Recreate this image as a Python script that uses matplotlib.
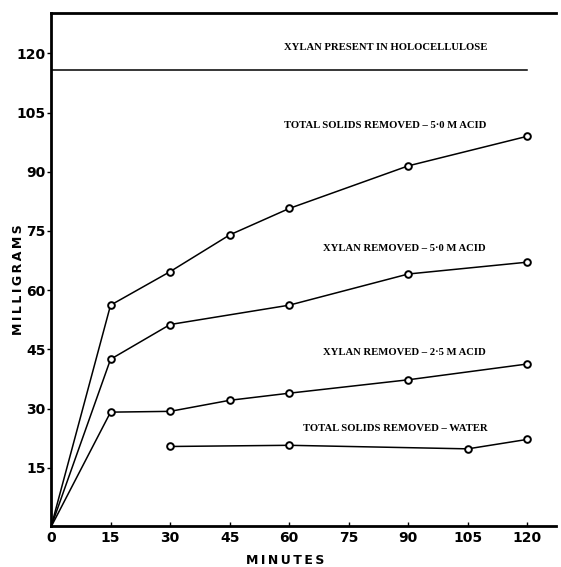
import matplotlib
matplotlib.use("Agg")
import matplotlib.pyplot as plt

# data
xylan_present = 115.8
ts_acid_x = [0, 15, 30, 45, 60, 90, 120]
ts_acid_y = [0, 56.2, 64.7, 74.0, 80.7, 91.5, 99.0]
xy50_x = [0, 15, 30, 60, 90, 120]
xy50_y = [0, 42.5, 51.3, 56.2, 64.1, 67.1]
xy25_x = [0, 15, 30, 45, 60, 90, 120]
xy25_y = [0, 29.1, 29.3, 32.1, 33.9, 37.3, 41.3]
water_x = [30, 60, 105, 120]
water_y = [20.4, 20.7, 19.8, 22.2]
xticks = [0, 15, 30, 45, 60, 75, 90, 105, 120]
yticks = [15, 30, 45, 60, 75, 90, 105, 120]
labels = ["XYLAN PRESENT IN HOLOCELLULOSE",
          "TOTAL SOLIDS REMOVED \u2013 5\u00b70 M ACID",
          "XYLAN REMOVED \u2013 5\u00b70 M ACID",
          "XYLAN REMOVED \u2013 2\u00b75 M ACID",
          "TOTAL SOLIDS REMOVED \u2013 WATER"]

fig = plt.figure(figsize=(5.61, 5.67), dpi=100)
ax = fig.add_axes([51/561, (567-525.7)/567, (556-51)/561, (525.7-12.7)/567])
ax.set_xlim(0, 127.2)
ax.set_ylim(0.33, 130.3)

def plot_series(xs, ys):
    ax.plot(xs, ys, color='black', lw=1.1, clip_on=False, zorder=2)
    pts = [(x, y) for x, y in zip(xs, ys) if x > 0]
    ax.plot([p[0] for p in pts], [p[1] for p in pts], ls='none', marker='o',
            markersize=4.8, markerfacecolor='white', markeredgecolor='black',
            markeredgewidth=1.4, zorder=3)

plot_series(ts_acid_x, ts_acid_y)
plot_series(xy50_x, xy50_y)
plot_series(xy25_x, xy25_y)
plot_series(water_x, water_y)
ax.plot([0, 120], [xylan_present, xylan_present], color='black', lw=1.1)

tf = dict(family='Liberation Serif', fontweight='bold', fontsize=7.7, ha='center', va='center')
ax.text(84.3, 121.6, labels[0], **tf)
ax.text(84.3, 101.8, labels[1], **tf)
ax.text(89.0, 70.5, labels[2], **tf)
ax.text(89.0, 44.3, labels[3], **tf)
ax.text(86.8, 24.9, labels[4], **tf)

ax.spines['right'].set_visible(False)
for s in ['left', 'bottom', 'top']:
    ax.spines[s].set_linewidth(2.0)

ax.set_xticks(xticks)
ax.set_xticklabels([str(v) for v in xticks])
ax.set_yticks(yticks)
ax.set_yticklabels([str(v) for v in yticks])
ax.tick_params(axis='x', direction='in', length=3, width=1, pad=4, labelsize=10)
ax.tick_params(axis='y', direction='out', length=3, width=1, pad=1, labelsize=10)
for lab in ax.get_xticklabels() + ax.get_yticklabels():
    lab.set_fontweight('bold')
    lab.set_family('DejaVu Sans')

fig.text(285/561, 1 - 561/567, "\u2009".join("MINUTES"), ha='center', va='center',
         fontsize=9, fontweight='bold', family='DejaVu Sans')
fig.text(18/561, 1 - 280/567, "\u2009".join("MILLIGRAMS"), ha='center', va='center',
         rotation=90, fontsize=9, fontweight='bold', family='DejaVu Sans')

fig.savefig("out.png", dpi=100)
